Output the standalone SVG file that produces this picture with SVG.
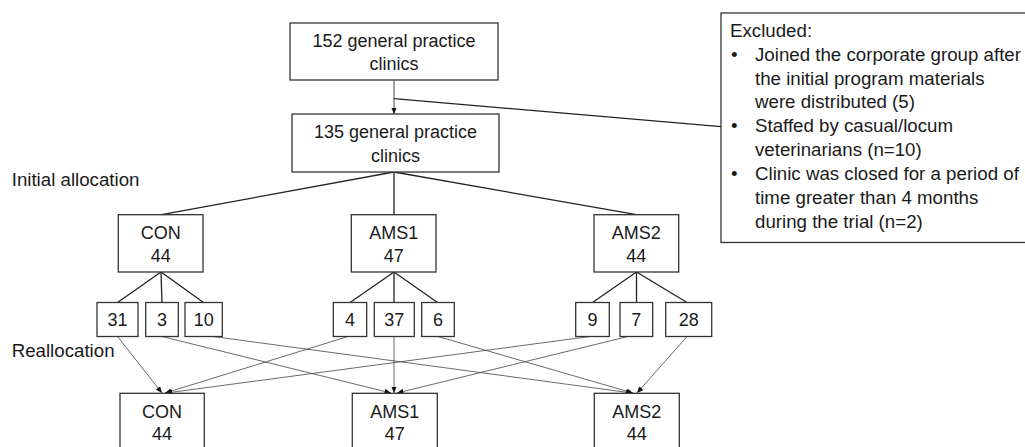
<svg xmlns="http://www.w3.org/2000/svg" width="1025" height="447" viewBox="0 0 1025 447">
<style>
  .box { fill: #ffffff; stroke: #333333; stroke-width: 1.3; }
  .lbl { font-family: "Liberation Sans", Arial, sans-serif; font-size: 18px; fill: #1a1a1a; text-anchor: middle; }
  .txt { font-family: "Liberation Sans", Arial, sans-serif; font-size: 18.7px; fill: #1a1a1a; }
  .tree { stroke: #222222; stroke-width: 1.3; fill: none; }
  .arr { stroke: #444444; stroke-width: 0.8; fill: none; marker-end: url(#ah); }
</style>
<defs>
  <marker id="ah" markerUnits="userSpaceOnUse" markerWidth="7" markerHeight="6" refX="6.5" refY="2.75" orient="auto">
    <path d="M0,0 L6.5,2.75 L0,5.5 z" fill="#111111"/>
  </marker>
</defs>
<rect width="1025" height="447" fill="#ffffff"/>

<text class="txt" x="11.7" y="186">Initial allocation</text>
<text class="txt" x="11.7" y="356.5">Reallocation</text>

<g id="connectors">
  <line x1="394" y1="80.5" x2="394" y2="114" stroke="#333" stroke-width="0.9" marker-end="url(#ah)"/>
  <line class="tree" x1="394" y1="98.7" x2="721" y2="126.7" stroke-width="1.1"/>
  <line class="tree" x1="394" y1="172" x2="161.5" y2="214.7"/>
  <line class="tree" x1="394" y1="172" x2="394" y2="214.7"/>
  <line class="tree" x1="394" y1="172" x2="636.5" y2="214.7"/>
  <line class="tree" x1="161" y1="272" x2="117.5" y2="302.5"/>
  <line class="tree" x1="161" y1="272" x2="162" y2="302.5"/>
  <line class="tree" x1="161" y1="272" x2="203.5" y2="302.5"/>
  <line class="tree" x1="394" y1="272" x2="350" y2="302.5"/>
  <line class="tree" x1="394" y1="272" x2="394" y2="302.5"/>
  <line class="tree" x1="394" y1="272" x2="437.5" y2="302.5"/>
  <line class="tree" x1="636.5" y1="272" x2="592.5" y2="302.5"/>
  <line class="tree" x1="636.5" y1="272" x2="636.5" y2="302.5"/>
  <line class="tree" x1="636.5" y1="272" x2="687" y2="302.5"/>
  <line class="arr" x1="117.5" y1="336.5" x2="162" y2="393"/>
  <line class="arr" x1="162" y1="336.5" x2="391" y2="393"/>
  <line class="arr" x1="213" y1="336.5" x2="632" y2="393"/>
  <line class="arr" x1="348" y1="336.5" x2="165" y2="393"/>
  <line class="arr" x1="394" y1="336.5" x2="394" y2="393"/>
  <line class="arr" x1="438" y1="336.5" x2="633" y2="393"/>
  <line class="arr" x1="590" y1="336.5" x2="166" y2="393"/>
  <line class="arr" x1="628" y1="336.5" x2="397" y2="393"/>
  <line class="arr" x1="687" y1="336.5" x2="637" y2="393"/>
</g>

<g id="n152">
  <rect class="box" x="290" y="23" width="208" height="57"/>
  <text class="lbl" x="394" y="46.7">152 general practice</text>
  <text class="lbl" x="394" y="70">clinics</text>
</g>
<g id="n135">
  <rect class="box" x="292" y="114" width="207" height="58"/>
  <text class="lbl" x="395.5" y="138.3">135 general practice</text>
  <text class="lbl" x="395.5" y="161.7">clinics</text>
</g>
<g id="excluded">
  <rect class="box" x="721" y="13" width="330" height="229.5"/>
  <text class="txt" x="730" y="36.7">Excluded:</text>
  <text class="txt" x="731" y="60.6">•</text>
  <text class="txt" x="755" y="60.6">Joined the corporate group after</text>
  <text class="txt" x="755" y="84.5">the initial program materials</text>
  <text class="txt" x="755" y="108.4">were distributed (5)</text>
  <text class="txt" x="731" y="132.3">•</text>
  <text class="txt" x="755" y="132.3">Staffed by casual/locum</text>
  <text class="txt" x="755" y="156.2">veterinarians (n=10)</text>
  <text class="txt" x="731" y="180.1">•</text>
  <text class="txt" x="755" y="180.1">Clinic was closed for a period of</text>
  <text class="txt" x="755" y="204">time greater than 4 months</text>
  <text class="txt" x="755" y="227.9">during the trial (n=2)</text>
</g>

<g id="con1">
  <rect class="box" x="118.3" y="214.7" width="84.7" height="57.3"/>
  <text class="lbl" x="160.7" y="239">CON</text>
  <text class="lbl" x="160.7" y="261.7">44</text>
</g>
<g id="ams1a">
  <rect class="box" x="351.3" y="214.7" width="84.7" height="57.3"/>
  <text class="lbl" x="393.7" y="239">AMS1</text>
  <text class="lbl" x="393.7" y="261.7">47</text>
</g>
<g id="ams2a">
  <rect class="box" x="594" y="214.7" width="84.7" height="57.3"/>
  <text class="lbl" x="636.3" y="239">AMS2</text>
  <text class="lbl" x="636.3" y="261.7">44</text>
</g>

<g id="s31"><rect class="box" x="97" y="302.5" width="41" height="34"/><text class="lbl" x="117.5" y="325.7">31</text></g>
<g id="s3"><rect class="box" x="145.7" y="302.5" width="32.6" height="34"/><text class="lbl" x="162" y="325.7">3</text></g>
<g id="s10"><rect class="box" x="185" y="302.5" width="37.3" height="34"/><text class="lbl" x="203.7" y="325.7">10</text></g>
<g id="s4"><rect class="box" x="333.3" y="302.5" width="33.4" height="34"/><text class="lbl" x="350" y="325.7">4</text></g>
<g id="s37"><rect class="box" x="374.3" y="302.5" width="40" height="34"/><text class="lbl" x="394.3" y="325.7">37</text></g>
<g id="s6"><rect class="box" x="421.7" y="302.5" width="32.6" height="34"/><text class="lbl" x="438" y="325.7">6</text></g>
<g id="s9"><rect class="box" x="575.7" y="302.5" width="33.6" height="34"/><text class="lbl" x="592.5" y="325.7">9</text></g>
<g id="s7"><rect class="box" x="620" y="302.5" width="32.7" height="34"/><text class="lbl" x="636.3" y="325.7">7</text></g>
<g id="s28"><rect class="box" x="665.7" y="302.5" width="46" height="34"/><text class="lbl" x="688.7" y="325.7">28</text></g>

<g id="con2">
  <rect class="box" x="120" y="393.3" width="84.3" height="70"/>
  <text class="lbl" x="162" y="417.5">CON</text>
  <text class="lbl" x="162" y="440.3">44</text>
</g>
<g id="ams1b">
  <rect class="box" x="352.3" y="393.3" width="85" height="70"/>
  <text class="lbl" x="394.8" y="417.5">AMS1</text>
  <text class="lbl" x="394.8" y="440.3">47</text>
</g>
<g id="ams2b">
  <rect class="box" x="594.3" y="393.3" width="85" height="70"/>
  <text class="lbl" x="636.8" y="417.5">AMS2</text>
  <text class="lbl" x="636.8" y="440.3">44</text>
</g>
</svg>
